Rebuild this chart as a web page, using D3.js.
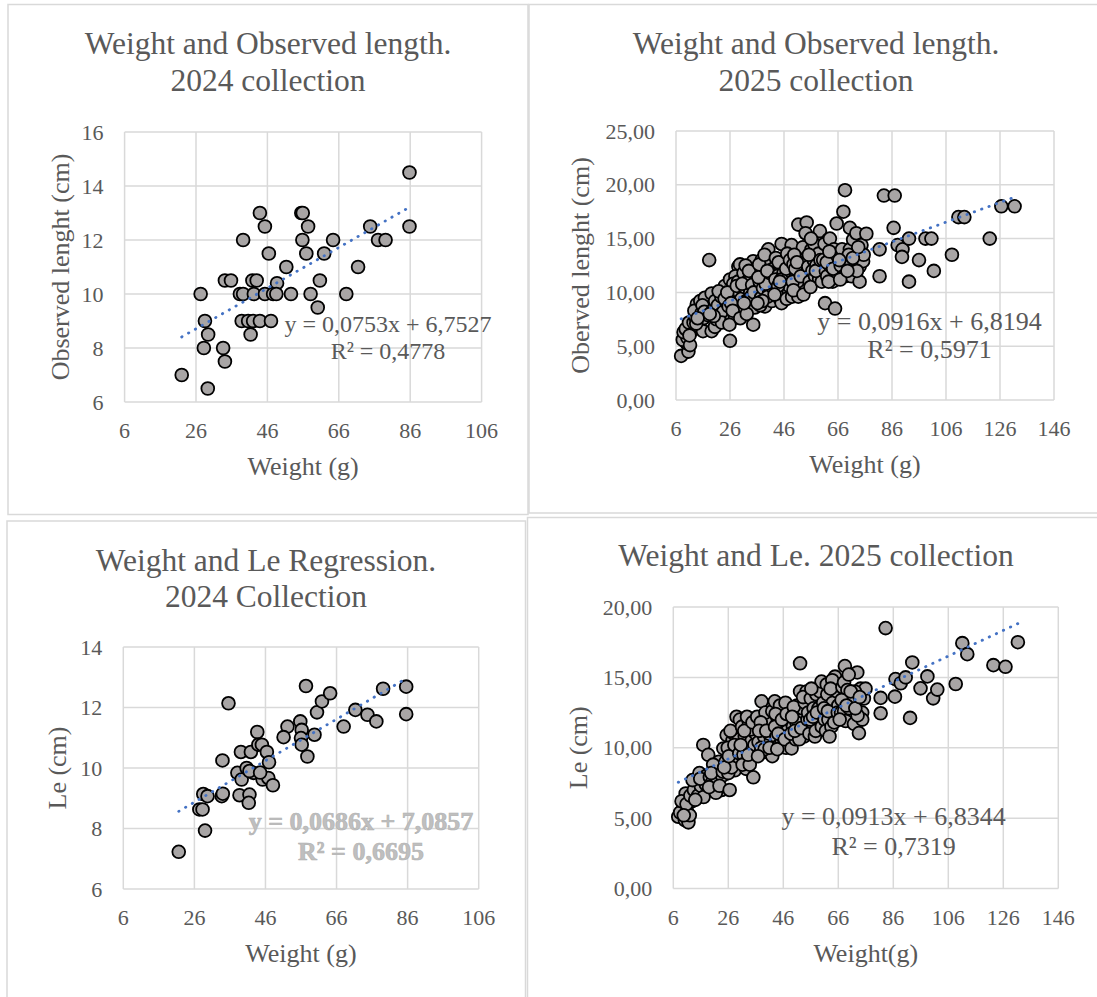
<!DOCTYPE html>
<html>
<head>
<meta charset="utf-8">
<script src="https://cdn.jsdelivr.net/npm/d3@7"></script>
<style>
  html, body { margin: 0; padding: 0; background: #ffffff; }
  svg { display: block; }
</style>
</head>
<body>
<svg id="chart" width="1097" height="997"></svg>
<script>
// ---------------- DATA ----------------
// Panel 1: Weight (g) vs Observed length (cm), 2024 collection
const obs2024 = [
  [85.8,14.5],[85.8,12.5],[43.9,13],[45.3,12.5],[55.5,13],[55.9,13],[57.4,12.5],[39.2,12],
  [55.8,12],[64.4,12],[46.4,11.5],[56.9,11.5],[61.9,11.5],[74.8,12.5],[77,12],[79.1,12],
  [71.4,11],[51.3,11],[34.1,10.5],[35.8,10.5],[41.8,10.5],[43,10.5],[48.7,10.4],[60.7,10.5],
  [27.3,10],[38.3,10],[39.2,10],[42.2,10],[45.3,10],[47.6,10],[48.5,10],[52.6,10],[58.1,10],
  [68.1,10],[60.1,9.5],[28.5,9],[38.8,9],[40.6,9],[42,9],[43.9,9],[47,9],[29.4,8.5],[41.3,8.5],
  [28.2,8],[33.6,8],[34.1,7.5],[22,7],[29.3,6.5]
];
// Panel 2: Weight (g) vs Observed length (cm), 2025 collection
const obs2025 = [
  [7.9,4.1],[10.6,4.5],[9.3,6.1],[9.9,5.3],[8.5,5.6],[11.8,6.4],[10.2,5.8],[8.8,6.3],[11.2,5.1],[12,6.8],[9.6,6.6],[10.8,7.2],[11,6.0],[12.5,7.2],
  [13,7.8],[13.7,8.9],[14.3,6.9],[12.8,8.3],[14.8,7.4],[15.5,8.1],[16.2,7.6],[15,9.2],[16.7,9.5],[17.2,8.6],[16,6.4],[17.8,7.9],[13.5,7.1],[15.8,8.8],[18.3,13.0],[16.5,8.2],[14,7.6],
  [19.2,9.9],[19.2,6.4],[20.4,6.8],[19.8,8.4],[20.5,9.2],[21,7.5],[21.5,8.8],[22.2,7.9],[22.8,9.6],[23.5,8.2],[24.1,10.6],[23,7.2],[21.8,10.1],[24.6,9.1],[20,7.8],[18.5,8.0],[24,9.4],
  [26,5.5],[26,11.2],[26.6,7.5],[25.5,8.7],[26.8,9.6],[27.5,10.3],[28.2,8.1],[28.8,9.2],[29.1,12.4],[29.7,12.6],[28,11.5],[27.2,10.8],[29.5,10.0],[30,8.6],[25,10.0],[27.8,7.8],[29,11],[30.2,9.4],[26.4,9.0],[28.5,10.6],[25.8,7.0],[27,8.3],[29.8,7.6],
  [31,11.8],[31.5,10.5],[32,9.2],[32.8,8.4],[33,11.2],[33.5,10.0],[34,12.2],[34.6,12.9],[34.6,7.0],[35,9.1],[35.5,11.5],[36,10.2],[31.8,12.5],[32.5,10.9],[33.8,9.6],[35.2,8.6],[30.5,10.8],[34.2,10.7],[36,12.0],[32.2,8.0],[33,12.0],[31.2,9.0],[34.8,10.0],
  [37.7,13.0],[37,11.0],[37.5,9.5],[38.2,10.4],[38.5,12.2],[39,8.7],[39.5,11.4],[40.2,14.0],[40.5,10.0],[41,12.8],[41.5,9.2],[42,11.0],[36.8,12.6],[38.8,13.5],[40,9.6],[41.8,10.5],[39.2,10.8],[37.2,8.8],[42,12.2],[36.5,11.4],[38,9.2],[40.8,11.8],[36.2,9.0],[39.8,12.0],
  [43,13.2],[43.5,10.2],[44,11.6],[44.5,9.4],[45.1,14.5],[45.1,9.0],[45.5,12.4],[46,10.8],[46.5,13.0],[47,11.2],[47.5,9.8],[48,12.0],[48.8,14.4],[44,12.8],[46.2,10.0],[47.8,10.6],[43.2,9.9],[45.8,11.8],[48.5,11.5],[42.8,11.2],[47.2,13.6],[43.8,10.6],[45,11.2],[46.8,12.2],[42.5,9.8],[44.5,11.0],[47,9.4],[48.2,13.0],
  [49,9.6],[49.5,12.6],[50,10.8],[50.5,11.5],[51.3,16.3],[51.3,9.6],[51.5,13.0],[52,10.2],[52.5,12.0],[53,14.2],[53.5,11.2],[54.4,16.5],[54,10.6],[49.8,13.5],[52.8,10.8],[50.2,12.2],[53.8,12.8],[51,11.0],[49.2,11.0],[54,15.5],[49.5,10.2],[50.8,12.8],[52.2,11.5],[53.2,9.8],
  [55,12.4],[55.5,11.0],[56.2,14.0],[56.5,12.0],[57,13.0],[57.5,11.5],[58,12.5],[58.5,15.2],[59.3,15.7],[59,11.2],[55.8,10.5],[57.2,14.5],[58.8,13.6],[59.8,12.2],[56,15.0],[60,11.0],[55.2,13.5],[57.8,12.0],[59.5,13.0],
  [60.5,13.0],[61.2,9.0],[61.5,12.0],[62,11.5],[62.4,14.9],[63,12.5],[63.5,13.5],[64,11.0],[64.9,8.5],[65,12.0],[65.5,16.4],[61,14.5],[63,15.0],[64.5,14.0],[66,11.5],[62.5,11.0],[61.8,12.8],[62.8,13.8],[64.2,12.2],
  [68,17.5],[68.6,19.5],[67,12.5],[67.5,14.0],[68,11.5],[68.6,11.5],[70.4,16.0],[70.4,14.0],[71.6,14.9],[71,11.5],[72.8,15.5],[72.8,13.0],[74,12.4],[74.7,14.4],[75.3,12.9],[74,11.0],[76.5,15.45],[69,12.8],[70,13.5],[73,12.0],[75.5,13.5],[66.5,13.0],[66.8,11.2],[69.5,12.0],[71.5,13.2],[73.5,14.2],
  [81.4,14.0],[81.4,11.5],[83,19],[87,19],[86.6,16],[88.1,14.4],[89.9,14.0],[89.7,13.3],[92.3,15],[92.3,11.0],[96,13.0],[98.4,15],[100.6,15],[101.5,12],[108.2,13.5],[110.6,17],[112.8,17],[122.2,15],[126.5,18],[131.4,18]
];
// Panel 3: Weight (g) vs Le (cm), 2024 collection
const le2024 = [
  [21.6,7.23],[29.0,7.93],[27.4,8.63],[28.3,8.63],[28.5,9.14],[29.7,9.07],[33.7,9.07],[34.0,9.15],[33.9,10.25],[35.6,12.14],
  [38.7,9.1],[41.5,9.12],[41.3,8.85],[39.1,10.53],[41.9,10.53],[43.7,11.19],[44.0,10.77],[45.0,10.77],[46.4,10.53],[47.0,10.19],
  [38.1,9.84],[40.7,10.0],[39.3,9.62],[42.6,9.84],[45.2,9.62],[46.8,9.67],[48.1,9.43],[41.5,9.9],[44.5,9.85],
  [52.2,11.37],[51.1,11.02],[55.8,11.54],[56.2,11.26],[56.0,10.99],[56.2,10.77],[57.8,10.38],[59.8,11.1],[57.4,12.71],
  [60.5,11.84],[61.9,12.2],[64.2,12.47],[68.0,11.37],[71.3,11.92],[74.7,11.76],[77.2,11.54],[79.1,12.62],[85.6,12.69],[85.6,11.78]
];
// Panel 4: Weight (g) vs Le (cm), 2025 collection
const le2025 = [
  [7.8,5.1],[10.2,4.86],[11.5,4.7],[9.6,5.7],[12.7,6.2],[10.5,6.75],[8.5,5.4],[11,5.5],[9,6.2],[12,5.2],[10.8,6.0],[12.2,6.6],[9.8,5.2],
  [14.5,7.5],[16.3,7.9],[16.9,10.2],[18.7,9.5],[17.5,6.9],[13.5,7.0],[15,6.6],[16,7.3],[13,7.7],[15.5,8.2],[17,6.5],[18,8.0],[14,6.3],[17.8,7.4],[15.8,7.8],
  [19.3,7.9],[23.6,7.0],[20,7.5],[21,8.4],[22,7.8],[22.5,9.0],[21.5,6.8],[23,8.5],[24.2,9.95],[20.5,8.8],[19,7.2],[23.8,8.0],[22.8,7.3],[19.8,8.2],[24,8.3],
  [25.4,10.9],[29,12.2],[30.2,12.0],[28.4,8.4],[30.8,8.9],[25,9.0],[26,8.2],[26.5,7.0],[27,9.5],[27.5,10.5],[28,11.0],[28.8,9.8],[29.5,9.2],[25.8,10.0],[27.2,8.6],[29.8,10.6],[26.8,11.2],[24.5,8.6],[26.2,9.4],[28.2,10.2],[30,9.6],
  [31,11.5],[31.5,9.5],[32,10.8],[32.5,8.5],[33,10.0],[33.5,11.8],[34,9.2],[34.5,10.5],[35,12.0],[35.1,7.9],[35.7,9.5],[36,11.0],[31.2,8.8],[32.8,12.2],[34.2,11.3],[30.5,10.2],[33.8,8.8],[35.5,10.2],[31.8,11.2],[33.2,9.5],[34.8,11.8],
  [38.1,13.3],[37,10.4],[37.5,9.6],[38.5,11.5],[39,10.8],[40,9.7],[40.5,12.0],[41.2,11.85],[41.5,10.5],[42,9.4],[36.5,12.2],[39.5,12.5],[38,10.0],[40.8,11.0],[42,12.6],[37.8,11.8],[39.2,9.9],[36.8,9.4],[37.2,11.2],[39.8,11.2],[41,10.0],
  [42.9,13.3],[43.5,10.8],[44,12.0],[44.5,10.2],[45.4,10.4],[46,11.5],[46.5,12.6],[47,10.0],[47.5,11.2],[48.4,12.9],[43,11.5],[44.8,13.0],[45.8,10.8],[47.8,12.0],[46.8,13.2],[43.8,9.9],[48,10.6],[43.2,12.4],[44.2,11.0],[45.5,12.0],[46.5,10.6],[47.2,12.4],
  [49,9.95],[49.5,11.5],[50,12.4],[50.5,10.6],[51,13.0],[51.5,11.0],[52.1,16.0],[52.1,14.0],[52.8,12.0],[53.5,10.8],[54.5,14.0],[53,12.8],[54,11.5],[49.8,12.9],[50.8,11.8],[53.8,13.2],[48.8,11.0],[51.8,10.6],[49.2,12.2],[50.2,11.2],[52.5,11.4],[53.2,13.6],[54.8,12.0],
  [55,12.5],[55.5,11.0],[56,13.5],[56.5,11.8],[57,12.8],[57.5,10.8],[58,13.8],[58.5,11.5],[59.3,14.0],[59.9,14.7],[59,12.2],[55.8,12.0],[57.8,11.2],[56.2,14.2],[58.8,12.8],[60,11.5],[56.8,12.2],[58.2,12.5],
  [60.5,13.2],[61,12.0],[61.5,11.2],[62,13.8],[62.4,12.0],[63,12.6],[63.5,11.5],[64,13.2],[64.8,15.05],[65,12.0],[65.5,14.0],[61.8,14.5],[63.8,14.8],[64.5,11.8],[66,13.0],[62.8,10.8],[60.8,12.8],[62.2,12.6],[63.2,14.2],[65.8,12.5],
  [68.4,15.8],[67,12.5],[67.5,14.3],[68.1,14.65],[68.1,12.6],[68.7,11.9],[69.3,14.1],[71.1,13.2],[71.7,11.7],[72.9,15.35],[73.5,11.04],[74.1,14.2],[74.7,12.5],[74.7,12.0],[75.3,13.5],[75.9,14.2],[70,12.8],[69.8,15.2],[72,14.0],[73,12.3],[66.5,12.0],[67.2,13.4],[69,13.0],[70.5,14.0],[72.2,12.8],[73.8,13.6],
  [81.4,13.54],[81.4,12.45],[83.2,18.5],[86.6,13.63],[86.8,14.88],[88.7,14.58],[90.5,15],[92.1,12.12],[92.9,16.06],[95.9,14.22],[98.4,15.07],[100.5,13.51],[102,14.13],[108.7,14.53],[111.1,17.43],[112.9,16.65],[122.4,15.87],[126.8,15.75],[131.3,17.5]
];

// Tick values
const xTicks2024 = [6, 26, 46, 66, 86, 106];
const xTicks2025 = [6, 26, 46, 66, 86, 106, 126, 146];
const yTicksObs2024 = [6, 8, 10, 12, 14, 16];
const yTicksObs2025 = [0, 5, 10, 15, 20, 25];
const yTicksLe2024 = [6, 8, 10, 12, 14];
const yTicksLe2025 = [0, 5, 10, 15, 20];

// Trendline coefficients [slope, intercept] and labels, as printed on the chart
const trendObs2024 = [0.0753, 6.7527];
const trendObs2025 = [0.0916, 6.8194];
const trendLe2024 = [0.0686, 7.0857];
const trendLe2025 = [0.0913, 6.8344];
const eqLabels = [
  ["y = 0,0753x + 6,7527", "R² = 0,4778"],
  ["y = 0,0916x + 6,8194", "R² = 0,5971"],
  ["y = 0,0686x + 7,0857", "R² = 0,6695"],
  ["y = 0,0913x + 6,8344", "R² = 0,7319"]
];

// ---------------- DRAWING ----------------
const FONT = "'Liberation Serif', 'Times New Roman', serif";
const TEXT = "#595959";
const GRID = "#d9d9d9";
const svg = d3.select("#chart");
const comma2 = v => v.toFixed(2).replace(".", ",");

const panels = [
  { box: [8, 4.5, 520, 510], plot: [124.6, 132, 481.6, 402], xd: [6, 106], yd: [6, 16],
    xt: xTicks2024, yt: yTicksObs2024, yf: d => String(d), data: obs2024, trend: trendObs2024,
    title: ["Weight and Observed length.", "2024 collection"], titleX: 268, titleY: [54, 91],
    xTitle: "Weight (g)", yTitle: "Observed lenght (cm)", yTitleX: 60,
    eq: eqLabels[0], eqX: 388, eqY: [332, 359], eqSize: 24, eqFill: TEXT, eqBold: false },
  { box: [529, 4.5, 580, 508.5], plot: [676, 131, 1054, 400], xd: [6, 146], yd: [0, 25],
    xt: xTicks2025, yt: yTicksObs2025, yf: comma2, data: obs2025, trend: trendObs2025,
    title: ["Weight and Observed length.", "2025 collection"], titleX: 816, titleY: [54, 91],
    xTitle: "Weight (g)", yTitle: "Oberved lenght (cm)", yTitleX: 580,
    eq: eqLabels[1], eqX: 929.5, eqY: [330, 358], eqSize: 26, eqFill: TEXT, eqBold: false },
  { box: [7, 521, 518.5, 490], plot: [123.3, 647, 478.7, 889], xd: [6, 106], yd: [6, 14],
    xt: xTicks2024, yt: yTicksLe2024, yf: d => String(d), data: le2024, trend: trendLe2024,
    title: ["Weight and Le Regression.", "2024 Collection"], titleX: 266, titleY: [571, 607],
    xTitle: "Weight (g)", yTitle: "Le (cm)", yTitleX: 57,
    eq: eqLabels[2], eqX: 361, eqY: [830, 860], eqSize: 26, eqFill: "#bfbfbf", eqBold: true },
  { box: [527.5, 517.5, 580, 490], plot: [673.3, 607, 1058.3, 888.5], xd: [6, 146], yd: [0, 20],
    xt: xTicks2025, yt: yTicksLe2025, yf: comma2, data: le2025, trend: trendLe2025,
    title: ["Weight and Le. 2025 collection"], titleX: 816, titleY: [566],
    xTitle: "Weight(g)", yTitle: "Le (cm)", yTitleX: 578,
    eq: eqLabels[3], eqX: 893.6, eqY: [825, 855], eqSize: 26, eqFill: TEXT, eqBold: false }
];

panels.forEach(p => {
  const g = svg.append("g");
  const [bx, by, bw, bh] = p.box;
  g.append("rect").attr("x", bx).attr("y", by).attr("width", bw).attr("height", bh)
    .attr("fill", "#ffffff").attr("stroke", GRID).attr("stroke-width", 1.5);

  const [x0, y0, x1, y1] = p.plot;
  const x = d3.scaleLinear().domain(p.xd).range([x0, x1]);
  const y = d3.scaleLinear().domain(p.yd).range([y1, y0]);

  // gridlines
  g.append("g").selectAll("line.v").data(p.xt).join("line")
    .attr("x1", d => x(d)).attr("x2", d => x(d)).attr("y1", y0).attr("y2", y1)
    .attr("stroke", GRID).attr("stroke-width", 1.5);
  g.append("g").selectAll("line.h").data(p.yt).join("line")
    .attr("x1", x0).attr("x2", x1).attr("y1", d => y(d)).attr("y2", d => y(d))
    .attr("stroke", GRID).attr("stroke-width", 1.5);

  // tick labels
  g.append("g").selectAll("text").data(p.xt).join("text")
    .attr("x", d => x(d)).attr("y", y1 + 36).attr("text-anchor", "middle")
    .attr("font-family", FONT).attr("font-size", 22).attr("fill", TEXT).text(d => d);
  g.append("g").selectAll("text").data(p.yt).join("text")
    .attr("x", x0 - 21).attr("y", d => y(d) + 7.5).attr("text-anchor", "end")
    .attr("font-family", FONT).attr("font-size", 22).attr("fill", TEXT).text(p.yf);

  // titles
  p.title.forEach((t, i) => {
    g.append("text").attr("x", p.titleX).attr("y", p.titleY[i]).attr("text-anchor", "middle")
      .attr("font-family", FONT).attr("font-size", 31.5).attr("fill", TEXT).text(t);
  });
  g.append("text").attr("x", (x0 + x1) / 2).attr("y", y1 + 73).attr("text-anchor", "middle")
    .attr("font-family", FONT).attr("font-size", 26).attr("fill", TEXT).text(p.xTitle);
  g.append("text")
    .attr("transform", `translate(${p.yTitleX},${(y0 + y1) / 2}) rotate(-90)`)
    .attr("dy", "0.35em").attr("text-anchor", "middle")
    .attr("font-family", FONT).attr("font-size", 26).attr("fill", TEXT).text(p.yTitle);

  // markers
  g.append("g").selectAll("circle").data(p.data).join("circle")
    .attr("cx", d => x(d[0])).attr("cy", d => y(d[1])).attr("r", 6.4)
    .attr("fill", "#a8a5a5").attr("stroke", "#000").attr("stroke-width", 1.8);

  // trendline (linear, across the data's x range)
  const xs = d3.extent(p.data, d => d[0]);
  const line = d3.line().x(d => x(d)).y(d => y(p.trend[0] * d + p.trend[1]));
  g.append("path").datum(xs).attr("d", line).attr("fill", "none")
    .attr("stroke", "#4472c4").attr("stroke-width", 2.8).attr("stroke-linecap", "round")
    .attr("stroke-dasharray", "0.4 7.4");

  // equation labels
  p.eq.forEach((t, i) => {
    const tx = g.append("text").attr("x", p.eqX).attr("y", p.eqY[i]).attr("text-anchor", "middle")
      .attr("font-family", FONT).attr("font-size", p.eqSize).attr("fill", p.eqFill).text(t);
    if (p.eqBold) tx.attr("font-weight", "bold").attr("stroke", "#b0b0b0").attr("stroke-width", 0.6);
  });
});
</script>
</body>
</html>
